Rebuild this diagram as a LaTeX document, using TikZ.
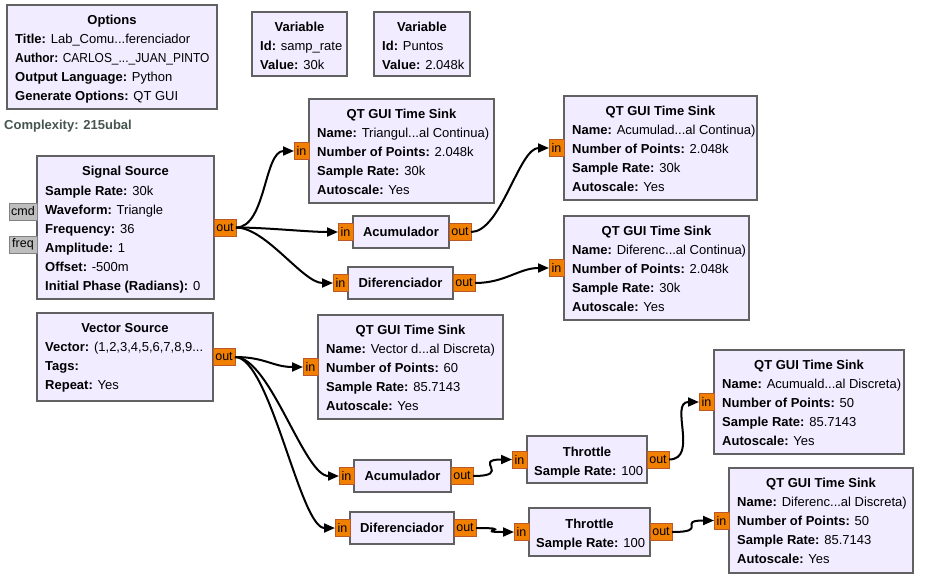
\documentclass[tikz,border=0pt]{standalone}
\usepackage{fontspec}
\setmainfont{Liberation Sans}
\usetikzlibrary{arrows.meta}
\definecolor{blkc}{RGB}{241,236,255}
\definecolor{bordc}{RGB}{97,97,97}
\definecolor{portc}{RGB}{242,128,0}
\definecolor{portb}{RGB}{185,88,40}
\definecolor{mportc}{RGB}{190,190,190}
\definecolor{mportb}{RGB}{130,130,130}
\definecolor{cplxc}{RGB}{70,85,80}
\newcommand\grcrow[4]{\node[rowtxt] (#1) at ([shift={(8,#3)}]#2.north west) {#4};}
\newcommand\grcttl[3]{\node[ttltxt] (#1) at ([shift={(0,19.5)}]#2.north) {#3};}
\begin{document}
\begin{tikzpicture}[x=1pt,y=-1pt,
  every node/.style={font=\fontsize{13}{15}\selectfont},
  blk/.style={draw=bordc, fill=blkc, line width=2pt, rectangle, inner sep=0pt, outer sep=0pt, anchor=north west},
  ttltxt/.style={anchor=base, inner sep=0pt, font=\fontsize{13}{15}\selectfont\bfseries},
  rowtxt/.style={anchor=base west, inner sep=0pt},
  ctrtxt/.style={anchor=base, inner sep=0pt, font=\fontsize{13}{15}\selectfont\bfseries},
  portbase/.style={line width=1pt, inner sep=0pt, outer sep=0pt, minimum height=17pt, font=\fontsize{12.5}{14}\selectfont},
  oport/.style={portbase, draw=portb, fill=portc, minimum width=22pt, anchor=west},
  iport/.style={portbase, draw=portb, fill=portc, minimum width=15pt, anchor=east},
  mport/.style={portbase, draw=mportb, fill=mportc, minimum width=28pt, anchor=east},
  conn/.style={draw=black, line width=2pt, -{Triangle[length=11pt,width=9pt]}}
]
\useasboundingbox[fill=white] (0,0) rectangle (927,587);

% ---------- Options ----------
\node[blk, minimum width=210pt, minimum height=104pt] (opt) at (7,5) {};
\grcttl{opt-t}{opt}{Options}
\grcrow{opt-1}{opt}{38.5}{\textbf{Title:} Lab\_Comu...ferenciador}
\grcrow{opt-2}{opt}{57.5}{\scalebox{0.92}[1]{\textbf{Author:} CARLOS\_...\_JUAN\_PINTO}}
\grcrow{opt-3}{opt}{76.5}{\textbf{Output Language:} Python}
\grcrow{opt-4}{opt}{95.5}{\textbf{Generate Options:} QT GUI}
\node[anchor=base west, inner sep=0pt, text=cplxc, font=\fontsize{13}{15}\selectfont\bfseries] (cplx) at (4,129.5) {Complexity: 215ubal};

% ---------- Variables ----------
\node[blk, minimum width=95pt, minimum height=64pt] (var1) at (252,12) {};
\grcttl{var1-t}{var1}{Variable}
\grcrow{var1-1}{var1}{38.5}{\textbf{Id:} samp\_rate}
\grcrow{var1-2}{var1}{57.5}{\textbf{Value:} 30k}
\node[blk, minimum width=96pt, minimum height=64pt] (var2) at (374,12) {};
\grcttl{var2-t}{var2}{Variable}
\grcrow{var2-1}{var2}{38.5}{\textbf{Id:} Puntos}
\grcrow{var2-2}{var2}{57.5}{\textbf{Value:} 2.048k}

% ---------- Signal Source ----------
\node[blk, minimum width=177pt, minimum height=143pt] (ss) at (37,156) {};
\grcttl{ss-t}{ss}{Signal Source}
\grcrow{ss-1}{ss}{39}{\textbf{Sample Rate:} 30k}
\grcrow{ss-2}{ss}{58}{\textbf{Waveform:} Triangle}
\grcrow{ss-3}{ss}{77}{\textbf{Frequency:} 36}
\grcrow{ss-4}{ss}{96}{\textbf{Amplitude:} 1}
\grcrow{ss-5}{ss}{115}{\textbf{Offset:} -500m}
\grcrow{ss-6}{ss}{134}{\textbf{Initial Phase (Radians):} 0}
\node[mport] (ss-cmd) at ([shift={(0,-16)}]ss.west) {cmd};
\node[mport] (ss-freq) at ([shift={(0,17)}]ss.west) {freq};
\node[oport] (ss-out) at (ss.east) {out};

% ---------- Sink 1 ----------
\node[blk, minimum width=185pt, minimum height=104pt] (sk1) at (309,99) {};
\grcttl{sk1-t}{sk1}{QT GUI Time Sink}
\grcrow{sk1-1}{sk1}{38.5}{\textbf{Name:} Triangul...al Continua)}
\grcrow{sk1-2}{sk1}{57.5}{\textbf{Number of Points:} 2.048k}
\grcrow{sk1-3}{sk1}{76.5}{\textbf{Sample Rate:} 30k}
\grcrow{sk1-4}{sk1}{95.5}{\textbf{Autoscale:} Yes}
\node[iport] (sk1-in) at (sk1.west) {in};

% ---------- Acumulador 1 ----------
\node[blk, minimum width=96pt, minimum height=32pt] (acum1) at (353,216) {};
\node[ctrtxt] (acum1-t) at ([shift={(0,4.6)}]acum1.center) {Acumulador};
\node[iport] (acum1-in) at (acum1.west) {in};
\node[oport] (acum1-out) at (acum1.east) {out};

% ---------- Diferenciador 1 ----------
\node[blk, minimum width=105pt, minimum height=32pt] (dif1) at (348,267) {};
\node[ctrtxt] (dif1-t) at ([shift={(0,4.6)}]dif1.center) {Diferenciador};
\node[iport] (dif1-in) at (dif1.west) {in};
\node[oport] (dif1-out) at (dif1.east) {out};

% ---------- Sink 2 ----------
\node[blk, minimum width=193pt, minimum height=104pt] (sk2) at (564,96) {};
\grcttl{sk2-t}{sk2}{QT GUI Time Sink}
\grcrow{sk2-1}{sk2}{38.5}{\textbf{Name:} Acumulad...al Continua)}
\grcrow{sk2-2}{sk2}{57.5}{\textbf{Number of Points:} 2.048k}
\grcrow{sk2-3}{sk2}{76.5}{\textbf{Sample Rate:} 30k}
\grcrow{sk2-4}{sk2}{95.5}{\textbf{Autoscale:} Yes}
\node[iport] (sk2-in) at (sk2.west) {in};

% ---------- Sink 3 ----------
\node[blk, minimum width=185pt, minimum height=104pt] (sk3) at (564,216) {};
\grcttl{sk3-t}{sk3}{QT GUI Time Sink}
\grcrow{sk3-1}{sk3}{38.5}{\textbf{Name:} Diferenc...al Continua)}
\grcrow{sk3-2}{sk3}{57.5}{\textbf{Number of Points:} 2.048k}
\grcrow{sk3-3}{sk3}{76.5}{\textbf{Sample Rate:} 30k}
\grcrow{sk3-4}{sk3}{95.5}{\textbf{Autoscale:} Yes}
\node[iport] (sk3-in) at (sk3.west) {in};

% ---------- Vector Source ----------
\node[blk, minimum width=176pt, minimum height=88pt] (vs) at (37,313) {};
\grcttl{vs-t}{vs}{Vector Source}
\grcrow{vs-1}{vs}{38.5}{\textbf{Vector:} (1,2,3,4,5,6,7,8,9...}
\grcrow{vs-2}{vs}{57.5}{\textbf{Tags:}}
\grcrow{vs-3}{vs}{76.5}{\textbf{Repeat:} Yes}
\node[oport] (vs-out) at (vs.east) {out};

% ---------- Sink 4 ----------
\node[blk, minimum width=185pt, minimum height=104pt] (sk4) at (318,315) {};
\grcttl{sk4-t}{sk4}{QT GUI Time Sink}
\grcrow{sk4-1}{sk4}{38.5}{\textbf{Name:} Vector d...al Discreta)}
\grcrow{sk4-2}{sk4}{57.5}{\textbf{Number of Points:} 60}
\grcrow{sk4-3}{sk4}{76.5}{\textbf{Sample Rate:} 85.7143}
\grcrow{sk4-4}{sk4}{95.5}{\textbf{Autoscale:} Yes}
\node[iport] (sk4-in) at (sk4.west) {in};

% ---------- Acumulador 2 ----------
\node[blk, minimum width=97pt, minimum height=32pt] (acum2) at (354,460) {};
\node[ctrtxt] (acum2-t) at ([shift={(0,4.6)}]acum2.center) {Acumulador};
\node[iport] (acum2-in) at (acum2.west) {in};
\node[oport] (acum2-out) at (acum2.east) {out};

% ---------- Throttle 1 ----------
\node[blk, minimum width=120pt, minimum height=47pt] (thr1) at (527,436) {};
\node[ttltxt] (thr1-t) at ([shift={(0,20.5)}]thr1.north) {Throttle};
\node[rowtxt] (thr1-1) at ([shift={(7,39.5)}]thr1.north west) {\textbf{Sample Rate:} 100};
\node[iport] (thr1-in) at (thr1.west) {in};
\node[oport] (thr1-out) at (thr1.east) {out};

% ---------- Sink 5 ----------
\node[blk, minimum width=190pt, minimum height=104pt] (sk5) at (714,350) {};
\grcttl{sk5-t}{sk5}{QT GUI Time Sink}
\grcrow{sk5-1}{sk5}{38.5}{\textbf{Name:} Acumuald...al Discreta)}
\grcrow{sk5-2}{sk5}{57.5}{\textbf{Number of Points:} 50}
\grcrow{sk5-3}{sk5}{76.5}{\textbf{Sample Rate:} 85.7143}
\grcrow{sk5-4}{sk5}{95.5}{\textbf{Autoscale:} Yes}
\node[iport] (sk5-in) at (sk5.west) {in};

% ---------- Diferenciador 2 ----------
\node[blk, minimum width=104pt, minimum height=32pt] (dif2) at (350,512) {};
\node[ctrtxt] (dif2-t) at ([shift={(0,4.6)}]dif2.center) {Diferenciador};
\node[iport] (dif2-in) at (dif2.west) {in};
\node[oport] (dif2-out) at (dif2.east) {out};

% ---------- Throttle 2 ----------
\node[blk, minimum width=121pt, minimum height=48pt] (thr2) at (529,508) {};
\node[ttltxt] (thr2-t) at ([shift={(0,20.5)}]thr2.north) {Throttle};
\node[rowtxt] (thr2-1) at ([shift={(7,39.5)}]thr2.north west) {\textbf{Sample Rate:} 100};
\node[iport] (thr2-in) at (thr2.west) {in};
\node[oport] (thr2-out) at (thr2.east) {out};

% ---------- Sink 6 ----------
\node[blk, minimum width=184pt, minimum height=105pt] (sk6) at (729,468) {};
\grcttl{sk6-t}{sk6}{QT GUI Time Sink}
\grcrow{sk6-1}{sk6}{38.5}{\textbf{Name:} Diferenc...al Discreta)}
\grcrow{sk6-2}{sk6}{57.5}{\textbf{Number of Points:} 50}
\grcrow{sk6-3}{sk6}{76.5}{\textbf{Sample Rate:} 85.7143}
\grcrow{sk6-4}{sk6}{95.5}{\textbf{Autoscale:} Yes}
\node[iport] (sk6-in) at (sk6.west) {in};

% ---------- Connections ----------
\draw[conn] (ss-out.east) .. controls +(30,0) and +(-30,0) .. (sk1-in.west);
\draw[conn] (ss-out.east) .. controls +(30,0) and +(-30,0) .. (acum1-in.west);
\draw[conn] (ss-out.east) .. controls +(30,0) and +(-30,0) .. (dif1-in.west);
\draw[conn] (acum1-out.east) .. controls +(30,0) and +(-30,0) .. (sk2-in.west);
\draw[conn] (dif1-out.east) .. controls +(30,0) and +(-30,0) .. (sk3-in.west);
\draw[conn] (vs-out.east) .. controls +(30,0) and +(-30,0) .. (sk4-in.west);
\draw[conn] (vs-out.east) .. controls +(35,0) and +(-35,0) .. (acum2-in.west);
\draw[conn] (vs-out.east) .. controls +(35,0) and +(-35,0) .. (dif2-in.west);
\draw[conn] (acum2-out.east) .. controls +(40,0) and +(-40,0) .. (thr1-in.west);
\draw[conn] (thr1-out.east) .. controls +(30,0) and +(-30,0) .. (sk5-in.west);
\draw[conn] (dif2-out.east) .. controls +(42,0) and +(-42,0) .. (thr2-in.west);
\draw[conn] (thr2-out.east) .. controls +(38,0) and +(-38,0) .. (sk6-in.west);
\end{tikzpicture}
\end{document}
